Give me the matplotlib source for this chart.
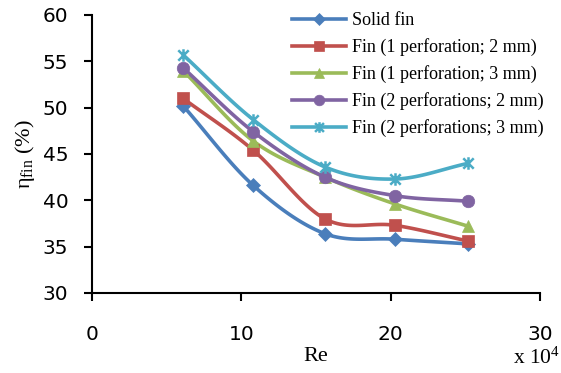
import numpy as np
import matplotlib
matplotlib.use("Agg")
import matplotlib.pyplot as plt
from matplotlib.path import Path

re_vals = [6.1, 10.8, 15.6, 20.3, 25.2]
solid = [50.2, 41.6, 36.4, 35.8, 35.3]
perf1_2mm = [51.0, 45.4, 38.0, 37.3, 35.6]
perf1_3mm = [54.0, 46.4, 42.5, 39.6, 37.2]
perf2_2mm = [54.3, 47.4, 42.5, 40.5, 39.9]
perf2_3mm = [55.7, 48.7, 43.6, 42.3, 44.0]

labels = ["Solid fin", "Fin (1 perforation; 2 mm)", "Fin (1 perforation; 3 mm)",
          "Fin (2 perforations; 2 mm)", "Fin (2 perforations; 3 mm)"]
series = [solid, perf1_2mm, perf1_3mm, perf2_2mm, perf2_3mm]
colors = ["#4A7EBB", "#C0504D", "#9BBB59", "#8064A2", "#4BACC6"]

star = Path([(-1, -1), (1, 1), (-1, 1), (1, -1), (0, -1.2), (0, 1.2)],
            [Path.MOVETO, Path.LINETO, Path.MOVETO, Path.LINETO, Path.MOVETO, Path.LINETO])
markers = ["D", "s", "^", "o", star]
msizes = [7, 8.5, 8.5, 9, 9]


def smooth(x, y, n=30):
    # Catmull-Rom style smoothing like spreadsheet "smoothed line"
    x = np.asarray(x, float)
    y = np.asarray(y, float)
    px = np.concatenate([[2 * x[0] - x[1]], x, [2 * x[-1] - x[-2]]])
    py = np.concatenate([[2 * y[0] - y[1]], y, [2 * y[-1] - y[-2]]])
    xs, ys = [], []
    t = np.linspace(0, 1, n)
    for i in range(1, len(px) - 2):
        p0, p1, p2, p3 = [np.array([px[j], py[j]]) for j in (i - 1, i, i + 1, i + 2)]
        c1 = p1 + (p2 - p0) / 6
        c2 = p2 - (p3 - p1) / 6
        pts = ((1 - t) ** 3)[:, None] * p1 + (3 * (1 - t) ** 2 * t)[:, None] * c1 \
            + (3 * (1 - t) * t ** 2)[:, None] * c2 + (t ** 3)[:, None] * p2
        xs.extend(pts[:, 0])
        ys.extend(pts[:, 1])
    return xs, ys


plt.rcParams["mathtext.fontset"] = "custom"
plt.rcParams["mathtext.rm"] = "Liberation Serif"
plt.rcParams["mathtext.it"] = "Liberation Serif:italic"

fig = plt.figure(figsize=(5.61, 3.73), dpi=100)
ax = fig.add_axes([0.164, 0.2145, 0.7986, 0.7453])

handles = []
for y, c, m, ms, lab in zip(series, colors, markers, msizes, labels):
    sx, sy = smooth(re_vals, y)
    ax.plot(sx, sy, color=c, lw=2.6, solid_capstyle="round", zorder=2)
    mew = 1.8 if m is star else 0.5
    ax.plot(re_vals, y, linestyle="none", marker=m, markersize=ms, color=c,
            markeredgecolor=c, markeredgewidth=mew, zorder=3)
    h, = ax.plot([], [], color=c, lw=2.6, marker=m, markersize=ms * 0.85,
                 markeredgecolor=c, markeredgewidth=mew, label=lab)
    handles.append(h)

ax.set_xlim(0, 30)
ax.set_ylim(30, 60)
ax.set_xticks([0, 10, 20, 30])
ax.set_yticks([30, 35, 40, 45, 50, 55, 60])
for s in ["top", "right"]:
    ax.spines[s].set_visible(False)
for s in ["left", "bottom"]:
    ax.spines[s].set_linewidth(1.5)
ax.tick_params(axis="both", direction="out", length=6, width=1.5, labelsize=14.5)
ax.tick_params(axis="x", pad=17)
ax.tick_params(axis="y", pad=11)
for lab in ax.get_xticklabels() + ax.get_yticklabels():
    lab.set_fontfamily("DejaVu Sans")

ax.set_xlabel("Re", fontfamily="Liberation Serif", fontsize=16, labelpad=2)
ax.set_ylabel("η$_{\\mathrm{fin}}$ (%)", fontfamily="Liberation Serif", fontsize=16, labelpad=4)
fig.text(0.998, 0.012, r"x 10$^{4}$", ha="right", va="bottom",
         fontfamily="Liberation Serif", fontsize=15.5)

leg = ax.legend(handles=handles, loc="upper left", bbox_to_anchor=(0.43, 1.035),
                frameon=False, prop={"family": "Liberation Serif", "size": 13},
                handlelength=3.0, handletextpad=0.35, labelspacing=0.5,
                borderaxespad=0, numpoints=1)

fig.savefig("out.png", dpi=100)
